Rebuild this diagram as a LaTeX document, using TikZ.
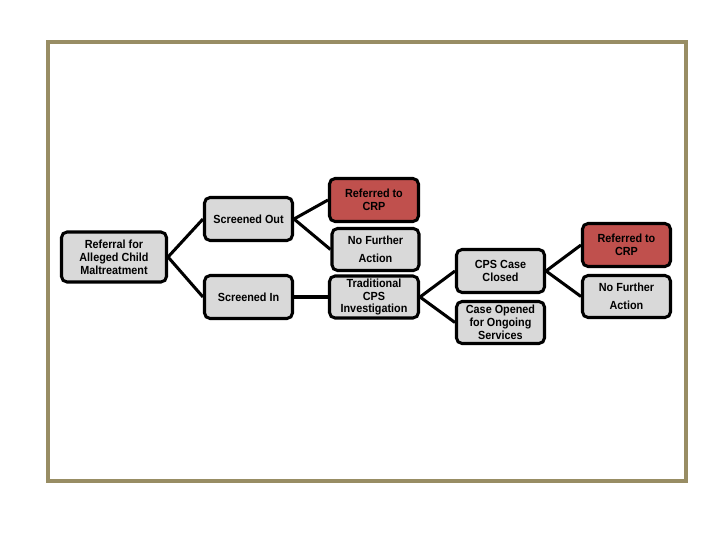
\documentclass[tikz,border=0pt]{standalone}
\usepackage{fontspec}
\setmainfont{Liberation Sans}
\newfontfamily\boxfont[FakeStretch=0.92]{Liberation Sans}
\usepackage{tikz}
\usetikzlibrary{positioning}
\definecolor{framecol}{RGB}{152,141,100}
\definecolor{crpred}{RGB}{192,80,77}
\definecolor{boxgray}{RGB}{217,217,217}

\begin{document}
\begin{tikzpicture}[x=0.01in,y=-0.01in,
  box/.style={draw=black, line width=2.2pt, rounded corners=4pt, fill=boxgray,
    align=center, inner sep=0pt, font=\boxfont\bfseries\fontsize{8.5}{9.3}\selectfont},
  redbox/.style={box, fill=crpred},
  sz/.style 2 args={minimum width=#1*0.01in, minimum height=#2*0.01in},
  link/.style={line width=2.2pt}]
  \useasboundingbox (0,0) rectangle (720,540);
  \draw[framecol, line width=2.2pt] (48,42) rectangle (686,481);
  % first level
  \node[box, sz={105}{50}] (ref) at (114,257) {Referral for\\Alleged Child\\Maltreatment};
  \node[box, sz={88}{43}] (out) at (248.5,219) {Screened Out};
  \node[box, sz={88}{43}] (in) at (248.5,297) {Screened In};
  % second level
  \node[redbox, sz={89}{43}] (crpa) at (374,200) {Referred to\\CRP};
  \node[box, sz={87}{42}] (nfaa) at (375.5,249.5) {No Further\\[4pt]Action};
  \node[box, sz={89}{42}] (trad) at (374,297) {Traditional\\CPS\\Investigation};
  % third level
  \node[box, sz={88}{43}] (closed) at (500.5,271) {CPS Case\\Closed};
  \node[box, sz={88}{42}] (opened) at (500.5,322.5) {Case Opened\\for Ongoing\\Services};
  % fourth level
  \node[redbox, sz={88}{43}] (crpb) at (626.5,245) {Referred to\\CRP};
  \node[box, sz={88}{42}] (nfab) at (626.5,296.5) {No Further\\[4pt]Action};
  % links
  \draw[link] (ref.east) -- (out.west);
  \draw[link] (ref.east) -- (in.west);
  \draw[link] (out.east) -- (crpa.west);
  \draw[link] (out.east) -- (nfaa.west);
  \draw[link] (in.east) -- (trad.west);
  \draw[link] (trad.east) -- (closed.west);
  \draw[link] (trad.east) -- (opened.west);
  \draw[link] (closed.east) -- (crpb.west);
  \draw[link] (closed.east) -- (nfab.west);
\end{tikzpicture}
\end{document}
